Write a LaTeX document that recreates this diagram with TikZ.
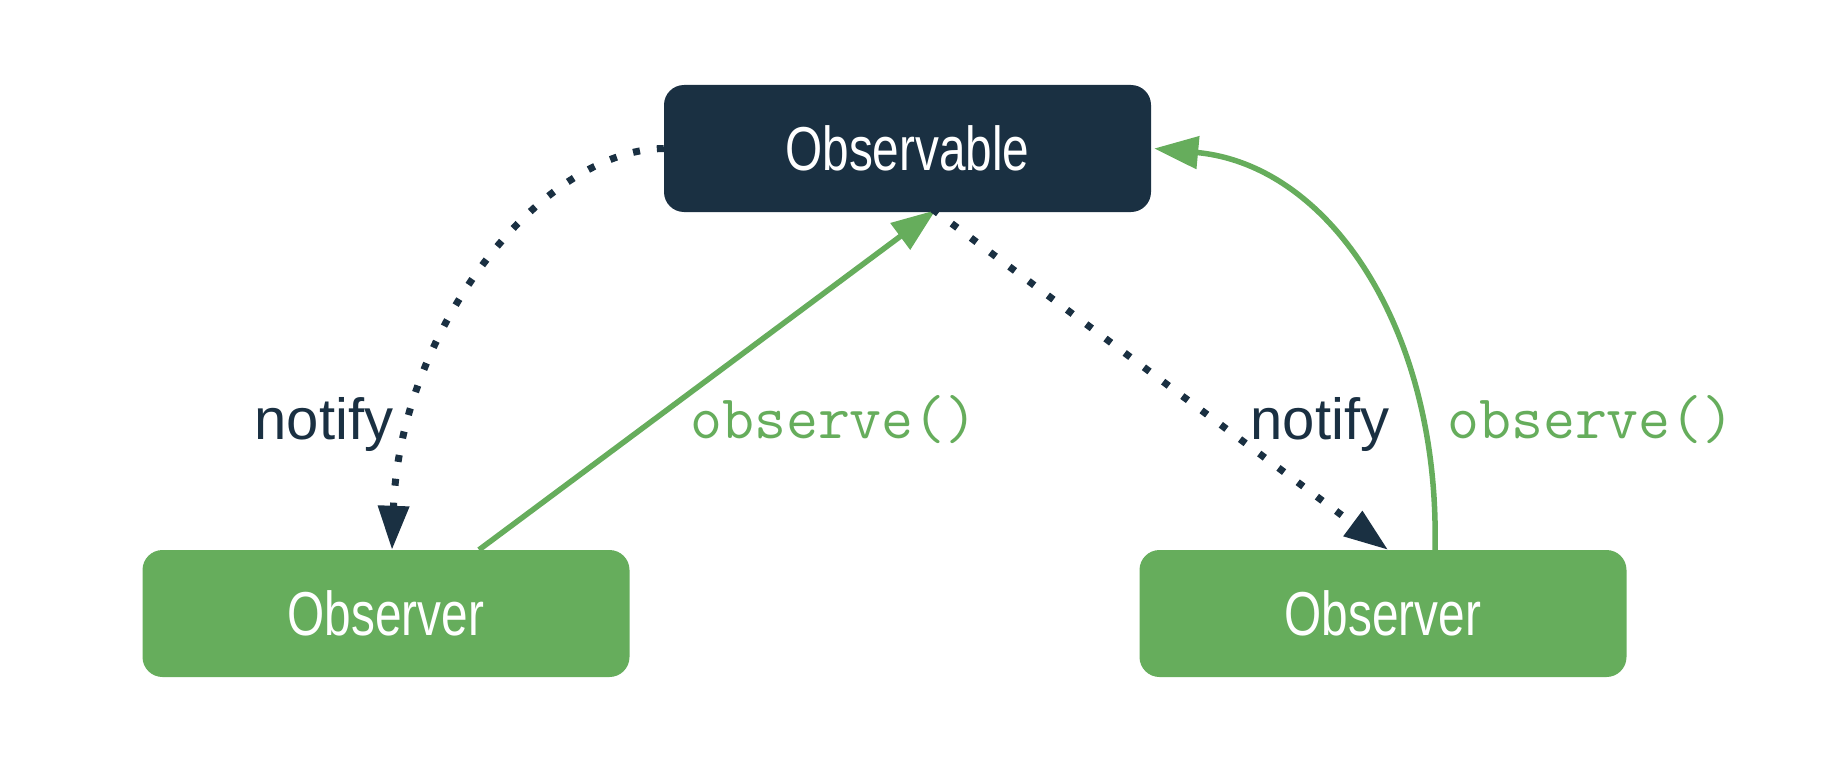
\documentclass[tikz,border=0pt]{standalone}
\usepackage{fontspec}
\setmainfont{Liberation Sans}
\usetikzlibrary{arrows.meta}
\definecolor{navy}{RGB}{26,48,66}
\definecolor{leaf}{RGB}{102,173,92}
\tikzset{
  box/.style={rounded corners=20pt, minimum width=487pt, minimum height=127pt, inner sep=0pt, text=white,
    font=\fontsize{62}{70}\selectfont},
  dotarrow/.style={navy, line width=7pt, dash pattern=on 7pt off 17pt,
    -{Triangle[length=44pt,width=30pt]}},
  greenarrow/.style={leaf, line width=5.5pt, -{Triangle[length=44pt,width=32pt]}},
  notelbl/.style={text=navy, anchor=base, inner sep=0pt, font=\fontsize{58}{66}\selectfont},
  codelbl/.style={text=leaf, anchor=base, inner sep=0pt, font=\ttfamily\fontsize{62}{68}\selectfont}
}
\begin{document}
\begin{tikzpicture}[x=1pt,y=-1pt]
\useasboundingbox (0,0) rectangle (1826,776);
\node[box, fill=navy] (obs) at (907.5,148.5) {\scalebox{0.77}[1]{Observable}};
\node[box, fill=leaf] (obsL) at (386,613.5) {\scalebox{0.77}[1]{Observer}};
\node[box, fill=leaf] (obsR) at (1383,613.5) {\scalebox{0.77}[1]{Observer}};
\node[notelbl] (n1) at (324,439) {notify};
\node[codelbl] (c1) at (834,438) {observe()};
\node[notelbl] (n2) at (1320,439) {notify};
\node[codelbl] (c2) at (1591,438) {observe()};
\draw[dotarrow] (obs.west) .. controls (540,150) and (400,330) .. ([xshift=6pt]obsL.north);
\draw[greenarrow] ([xshift=93pt]obsL.north) -- ([xshift=28pt,yshift=2pt]obs.south);
\draw[dotarrow] ([xshift=25pt,yshift=3pt]obs.south) -- ([xshift=5pt]obsR.north);
\draw[greenarrow] ([xshift=52pt]obsR.north) .. controls (1440,330) and (1330,165) .. ([xshift=3pt]obs.east);
\end{tikzpicture}
\end{document}
